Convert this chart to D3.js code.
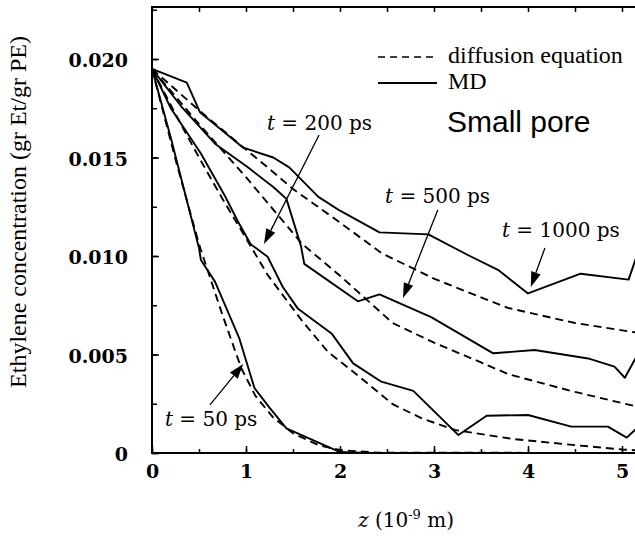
<!DOCTYPE html>
<html>
<head>
<meta charset="utf-8">
<script src="https://cdn.jsdelivr.net/npm/d3@7"></script>
<style>
    body { margin: 0; background: #fff; }
    svg { display: block; }
    .tick-label { font-family: "DejaVu Serif", serif; font-weight: bold; font-size: 19px; }
    .axis-title { font-family: "Liberation Serif", "Times New Roman", serif; font-size: 24px; }
    .annot { font-family: "DejaVu Serif", serif; font-size: 20px; }
</style>
</head>
<body>
<div id="chart"></div>
<script>
// ---- data (z in 1e-9 m, concentration in gr Et / gr PE) ----
const zMD50 = [0, 0.2, 0.5, 0.52, 0.67, 0.93, 1.09, 1.25, 1.43, 2.0, 2.3, 5.2];
const cMD50 = [0.0195, 0.0160, 0.0104, 0.0098, 0.0087, 0.0058, 0.0033, 0.0023, 0.00125, 0.00005, 0, 0];

const zMD200 = [0, 0.2, 0.52, 0.77, 0.92, 1.05, 1.23, 1.39, 1.55, 1.91, 2.14, 2.44, 2.78, 3.26, 3.56, 4.0, 4.46, 4.85, 5.05, 5.2];
const cMD200 = [0.0195, 0.0175, 0.0152, 0.0131, 0.0117, 0.0106, 0.00996, 0.00844, 0.00734, 0.00607, 0.00455, 0.00362, 0.00315, 0.00091, 0.00189, 0.00193, 0.00134, 0.00134, 0.00078, 0.00145];

const zMD500 = [0, 0.31, 0.67, 1.02, 1.29, 1.43, 1.585, 1.62, 2.19, 2.42, 2.97, 3.63, 4.07, 4.64, 4.92, 5.03, 5.2];
const cMD500 = [0.0195, 0.0176, 0.0157, 0.0145, 0.0135, 0.0129, 0.0105, 0.0096, 0.0077, 0.00805, 0.0069, 0.00506, 0.00523, 0.0048, 0.00438, 0.00382, 0.0053];

const zMD1000 = [0, 0.37, 0.51, 0.97, 1.29, 1.46, 1.77, 2.0, 2.42, 2.94, 3.36, 3.68, 4.0, 4.56, 5.07, 5.2];
const cMD1000 = [0.0195, 0.0188, 0.0173, 0.0155, 0.0150, 0.0145, 0.0130, 0.0123, 0.0112, 0.0111, 0.01005, 0.0093, 0.0081, 0.0091, 0.0088, 0.0106];

const zDE50 = [0, 0.25, 0.5, 0.75, 0.95, 1.1, 1.29, 1.5, 1.77, 2.0, 2.4, 5.2];
const cDE50 = [0.0195, 0.0149, 0.0106, 0.0070, 0.0043, 0.0029, 0.0018, 0.0010, 0.0004, 0.00015, 0.00002, 0];

const zDE200 = [0, 0.25, 0.5, 0.75, 1.0, 1.23, 1.59, 1.87, 2.16, 2.56, 2.87, 3.22, 3.84, 4.5, 5.0, 5.2];
const cDE200 = [0.0195, 0.0172, 0.0150, 0.0129, 0.0109, 0.00904, 0.00675, 0.00514, 0.00405, 0.00248, 0.00176, 0.00117, 0.00071, 0.0004, 0.00018, 0.00012];

const zDE500 = [0, 0.5, 1.0, 1.6, 2.0, 2.56, 3.0, 3.5, 3.79, 4.5, 5.12, 5.2];
const cDE500 = [0.0195, 0.0167, 0.0140, 0.0106, 0.0090, 0.0066, 0.0056, 0.0046, 0.0040, 0.0031, 0.0024, 0.00235];

const zDE1000 = [0, 0.5, 1.0, 1.23, 1.5, 2.0, 2.44, 3.0, 3.5, 3.79, 4.5, 5.12, 5.2];
const cDE1000 = [0.0195, 0.0174, 0.0154, 0.0145, 0.0134, 0.0117, 0.01015, 0.00885, 0.0079, 0.00736, 0.0066, 0.00614, 0.0061];

const xTicks = [0, 1, 2, 3, 4, 5];
const yTicks = [0, 0.005, 0.010, 0.015, 0.020];

// annotations: label anchor and arrow from -> tip, in data units
const annotations = [
    { time: '50',   label: [0.138, 0.00137], from: [0.617, 0.00244], tip: [0.971, 0.00452] },
    { time: '200',  label: [1.223, 0.01640], from: [1.777, 0.01614], tip: [1.191, 0.01061] },
    { time: '500',  label: [2.479, 0.01269], from: [3.04, 0.01234],  tip: [2.67, 0.00787] },
    { time: '1000', label: [3.723, 0.01096], from: [4.18, 0.01041],  tip: [4.03, 0.00843] }
];

const dimensions = { width: 635, height: 536 };

const svg = d3.select('#chart')
    .append('svg')
    .attr('width', dimensions.width)
    .attr('height', dimensions.height);

// scales
const x = d3.scaleLinear().domain([0, 5]).range([152, 622]);
const y = d3.scaleLinear().domain([0, 0.020]).range([453, 59]);
const yTop = y.invert(7);
const xRight = 5.3;

// frame
svg.append('rect')
    .attr('x', x(0))
    .attr('y', y(yTop))
    .attr('width', x(xRight) - x(0))
    .attr('height', y(0) - y(yTop))
    .attr('fill', 'none')
    .attr('stroke', '#000')
    .attr('stroke-width', 2);

// axes
const halfSteps = d3.range(0, 5.01, 0.5);
const quarterSteps = d3.range(0, 0.0226, 0.0025);

const bottomMinor = svg.append('g')
    .attr('transform', `translate(0, ${y(0)})`)
    .call(d3.axisBottom(x).tickValues(halfSteps).tickSize(-4).tickFormat(''));

const bottomMajor = svg.append('g')
    .attr('transform', `translate(0, ${y(0)})`)
    .call(d3.axisBottom(x).tickValues(xTicks).tickSize(-7).tickPadding(12).tickFormat(d3.format('d')));

const topTicks = svg.append('g')
    .attr('transform', `translate(0, ${y(yTop)})`)
    .call(d3.axisTop(x).tickValues(halfSteps).tickSize(-5).tickFormat(''));

const leftMinor = svg.append('g')
    .attr('transform', `translate(${x(0)}, 0)`)
    .call(d3.axisLeft(y).tickValues(quarterSteps).tickSize(-5).tickFormat(''));

const leftMajor = svg.append('g')
    .attr('transform', `translate(${x(0)}, 0)`)
    .call(d3.axisLeft(y).tickValues(yTicks).tickSize(-7).tickPadding(24)
        .tickFormat(d => d === 0 ? '0' : d3.format('.3f')(d)));

[bottomMinor, bottomMajor, topTicks, leftMinor, leftMajor].forEach(g => {
    g.select('.domain').remove();
    g.selectAll('line').attr('stroke', '#000').attr('stroke-width', 1.5);
    g.selectAll('text')
        .attr('class', 'tick-label')
        .attr('fill', '#000')
        .attr('font-size', null)
        .attr('font-family', null);
});
leftMajor.selectAll('text').attr('dy', '0.42em');

// curves
const line = d3.line()
    .x(d => x(d[0]))
    .y(d => y(d[1]));

const plot = svg.append('g');

const series = [
    { z: zDE50, c: cDE50, dashed: true },
    { z: zDE200, c: cDE200, dashed: true },
    { z: zDE500, c: cDE500, dashed: true },
    { z: zDE1000, c: cDE1000, dashed: true },
    { z: zMD50, c: cMD50, dashed: false },
    { z: zMD200, c: cMD200, dashed: false },
    { z: zMD500, c: cMD500, dashed: false },
    { z: zMD1000, c: cMD1000, dashed: false }
];

plot.selectAll('path.curve')
    .data(series)
    .enter()
    .append('path')
        .attr('class', 'curve')
        .attr('d', d => line(d3.zip(d.z, d.c)))
        .attr('fill', 'none')
        .attr('stroke', '#000')
        .attr('stroke-width', 1.9)
        .attr('stroke-linejoin', 'round')
        .attr('stroke-dasharray', d => d.dashed ? '8,5' : null);

// annotation arrows and labels
annotations.forEach(a => {
    const x0 = x(a.from[0]), y0 = y(a.from[1]);
    const x1 = x(a.tip[0]), y1 = y(a.tip[1]);
    const ang = Math.atan2(y1 - y0, x1 - x0);
    const len = 15, half = 5;
    const bx = x1 - len * Math.cos(ang), by = y1 - len * Math.sin(ang);
    const px = -Math.sin(ang) * half, py = Math.cos(ang) * half;

    svg.append('line')
        .attr('x1', x0).attr('y1', y0)
        .attr('x2', bx).attr('y2', by)
        .attr('stroke', '#000')
        .attr('stroke-width', 1.3);

    svg.append('path')
        .attr('d', `M${x1},${y1}L${bx + px},${by + py}L${bx - px},${by - py}Z`)
        .attr('fill', '#000');

    const t = svg.append('text')
        .attr('class', 'annot')
        .attr('x', x(a.label[0]))
        .attr('y', y(a.label[1]));
    t.append('tspan').attr('font-style', 'italic').text('t');
    t.append('tspan').text(` = ${a.time} ps`);
});

// legend
const legend = svg.append('g');
legend.append('line')
    .attr('x1', 378).attr('x2', 438).attr('y1', 57).attr('y2', 57)
    .attr('stroke', '#000').attr('stroke-width', 1.6).attr('stroke-dasharray', '7,5');
legend.append('text')
    .attr('class', 'axis-title')
    .attr('x', 448).attr('y', 63)
    .text('diffusion equation');
legend.append('line')
    .attr('x1', 378).attr('x2', 437).attr('y1', 83).attr('y2', 83)
    .attr('stroke', '#000').attr('stroke-width', 1.8);
legend.append('text')
    .attr('class', 'axis-title')
    .attr('x', 448).attr('y', 89)
    .text('MD');

svg.append('text')
    .attr('x', 447).attr('y', 132)
    .style('font-family', '"Liberation Sans", Arial, sans-serif')
    .style('font-size', '30px')
    .text('Small pore');

// axis titles
svg.append('text')
    .attr('class', 'axis-title')
    .attr('transform', 'translate(26, 212) rotate(-90)')
    .attr('text-anchor', 'middle')
    .text('Ethylene concentration (gr Et/gr PE)');

const xTitle = svg.append('text')
    .attr('x', 406)
    .attr('y', 527)
    .attr('text-anchor', 'middle')
    .style('font-family', '"DejaVu Serif", serif')
    .style('font-size', '20px');
xTitle.append('tspan').attr('font-style', 'italic').text('z');
xTitle.append('tspan').text(' (10');
xTitle.append('tspan').attr('dy', -8).style('font-size', '13px').text('-9');
xTitle.append('tspan').attr('dy', 8).text(' m)');
</script>
</body>
</html>
